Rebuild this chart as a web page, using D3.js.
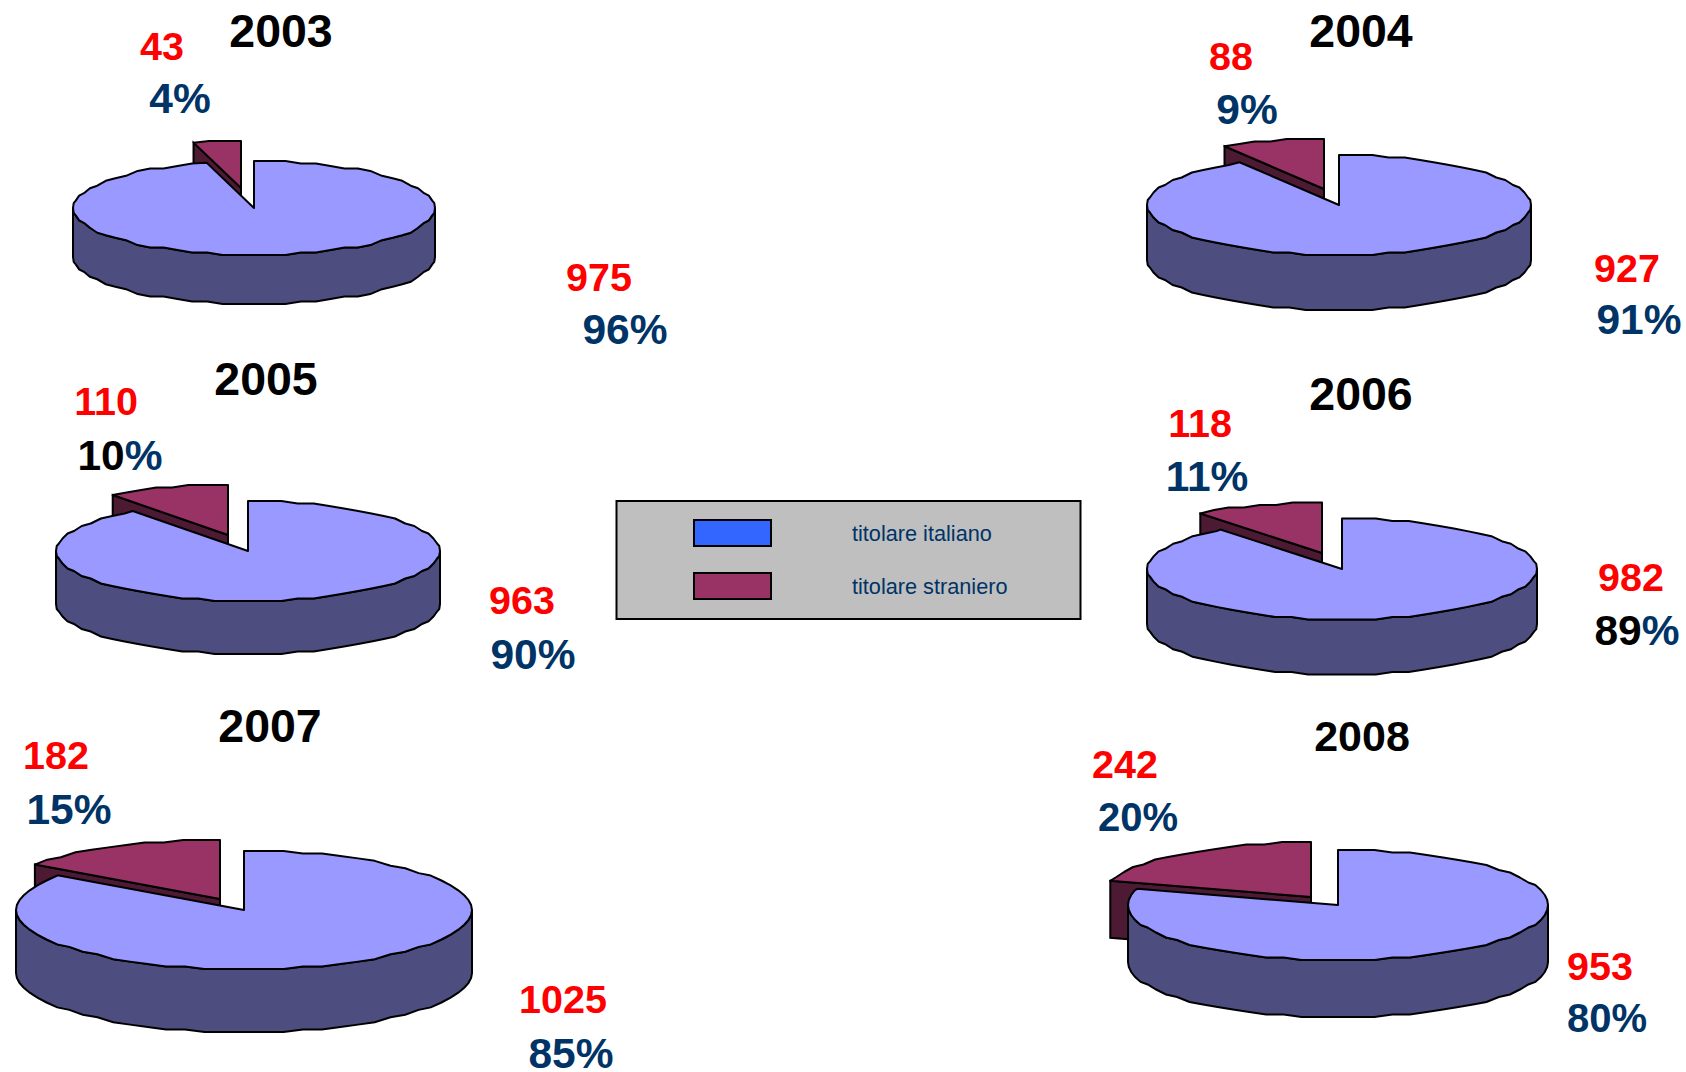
<!DOCTYPE html>
<html>
<head>
<meta charset="utf-8">
<script src="https://cdn.jsdelivr.net/npm/d3@7/dist/d3.min.js"></script>
<style>
  html, body { margin: 0; padding: 0; background: #fff; }
  svg { display: block; }
  text { font-family: "Liberation Sans", Arial, sans-serif; }
</style>
</head>
<body>
<svg width="1686" height="1072"></svg>
<script>
const years = ['2003', '2004', '2005', '2006', '2007', '2008']
const italianCounts = [975, 927, 963, 982, 1025, 953]
const foreignCounts = [43, 88, 110, 118, 182, 242]
const italianPct = ['96%', '91%', '90%', '89%', '85%', '80%']
const foreignPct = ['4%', '9%', '10%', '11%', '15%', '20%']
const legendLabels = ['titolare italiano', 'titolare straniero']

// layout measured on the picture, same order as years
const pieBoxes = [
  {cx: 254, cy: 208, rx: 181, ry: 47, depth: 49, dx: -13, dy: -20},
  {cx: 1339, cy: 205, rx: 192, ry: 50, depth: 55, dx: -15, dy: -16},
  {cx: 248, cy: 551, rx: 192, ry: 50, depth: 53, dx: -20, dy: -16},
  {cx: 1342, cy: 569, rx: 195, ry: 50.5, depth: 55, dx: -20, dy: -16},
  {cx: 244, cy: 910, rx: 228, ry: 59, depth: 63, dx: -24, dy: -11},
  {cx: 1338, cy: 905, rx: 210, ry: 55, depth: 57, dx: -27, dy: -8}
]
const titleSpots = [[281, 47], [1361, 47], [266, 395], [1361, 410], [270, 742], [1362, 751]]
const foreignCountSpots = [[162, 60], [1231, 70], [106, 415], [1200, 437], [56, 769], [1125, 778]]
const foreignPctSpots = [[180, 113], [1247, 124], [120, 470], [1207, 491], [69, 824], [1138, 831]]
const italianCountSpots = [[599, 291], [1627, 282], [522, 614], [1631, 591], [563, 1013], [1600, 980]]
const italianPctSpots = [[625, 344], [1639, 334], [533, 669], [1637, 645], [571, 1068], [1607, 1032]]

const svg = d3.select('svg')
const pie = d3.pie().sort(null)
const line = d3.line()

function rim (b, a) {
  return [b.cx + b.rx * Math.sin(a), b.cy - b.ry * Math.cos(a)]
}

// the original outline is a rough polygon with flat runs, not a smooth ellipse
function rimPoints (b, a0, a1) {
  const g = b.ry / Math.round(b.ry / 2.5)
  const pts = d3.range(a0, a1, Math.PI / 36).map(a => {
    const p = rim(b, a)
    return [p[0], b.cy + Math.round((p[1] - b.cy) / g) * g]
  })
  pts[0] = rim(b, a0)
  pts.push(rim(b, a1))
  return pts
}

function sector (b, a0, a1) {
  return svg.append('path')
    .attr('d', line([[b.cx, b.cy]].concat(rimPoints(b, a0, a1))) + 'Z')
    .attr('stroke', '#000')
    .attr('stroke-linejoin', 'round')
}

function addText (spot, str, size, fill) {
  return svg.append('text')
    .attr('x', spot[0])
    .attr('y', spot[1])
    .attr('text-anchor', 'middle')
    .attr('font-size', size)
    .attr('font-weight', 'bold')
    .attr('fill', fill)
    .text(str)
}

// a few percentages have black digits and a blue % sign
function addBlackPct (spot, str, size) {
  const t = addText(spot, '', size, '#003366')
  t.append('tspan').attr('fill', '#000').text(str.slice(0, -1))
  t.append('tspan').text('%')
}

years.forEach((year, i) => {
  const b = pieBoxes[i]
  const [italian, foreign] = pie([italianCounts[i], foreignCounts[i]])
  const moved = Object.assign({}, b, {cx: b.cx + b.dx, cy: b.cy + b.dy})

  // cut face of the pulled out slice
  const outer = rim(moved, foreign.startAngle)
  const tip = [moved.cx, moved.cy]
  svg.append('path')
    .attr('d', line([outer, tip, [tip[0], tip[1] + b.depth], [outer[0], outer[1] + b.depth]]) + 'Z')
    .attr('fill', '#4d1a33')
    .attr('stroke', '#000')
    .attr('stroke-width', 2)
  sector(moved, foreign.startAngle, foreign.endAngle)
    .attr('fill', '#993366')
    .attr('stroke-width', 2)

  // front wall of the big slice, left rim to right rim along the bottom
  const front = rimPoints(b, Math.PI / 2, Math.PI * 1.5)
  const wall = front.map(p => [p[0], p[1] + b.depth])
  svg.append('path')
    .attr('d', line(wall.concat(front.slice().reverse())) + 'Z')
    .attr('fill', '#4d4d80')
    .attr('stroke', '#000')
    .attr('stroke-width', 2)
  sector(b, italian.startAngle, italian.endAngle)
    .attr('fill', '#9999ff')
    .attr('stroke-width', 2)

  const pctSize = i === 5 ? 40 : 42.5
  addText(titleSpots[i], year, i === 5 ? 43 : 46.5, '#000')
  addText(foreignCountSpots[i], foreignCounts[i], 39.5, '#ff0000')
  addText(italianCountSpots[i], italianCounts[i], 39.5, '#ff0000')
  if (year === '2005') addBlackPct(foreignPctSpots[i], foreignPct[i], pctSize)
  else addText(foreignPctSpots[i], foreignPct[i], pctSize, '#003366')
  if (year === '2006') addBlackPct(italianPctSpots[i], italianPct[i], pctSize)
  else addText(italianPctSpots[i], italianPct[i], pctSize, '#003366')
})

// legend
svg.append('rect')
  .attr('x', 616.5).attr('y', 501).attr('width', 464).attr('height', 118)
  .attr('fill', '#bfbfbf').attr('stroke', '#000').attr('stroke-width', 2)
const legendY = d3.scalePoint().domain(legendLabels).range([533, 586])
const legendFill = d3.scaleOrdinal().domain(legendLabels).range(['#3366ff', '#993366'])
legendLabels.forEach(label => {
  svg.append('rect')
    .attr('x', 694).attr('y', legendY(label) - 13).attr('width', 77).attr('height', 26)
    .attr('fill', legendFill(label)).attr('stroke', '#000').attr('stroke-width', 2)
  svg.append('text')
    .attr('x', 852).attr('y', legendY(label) + 8)
    .attr('font-size', 21.7).attr('fill', '#003366')
    .text(label)
})
</script>
</body>
</html>
